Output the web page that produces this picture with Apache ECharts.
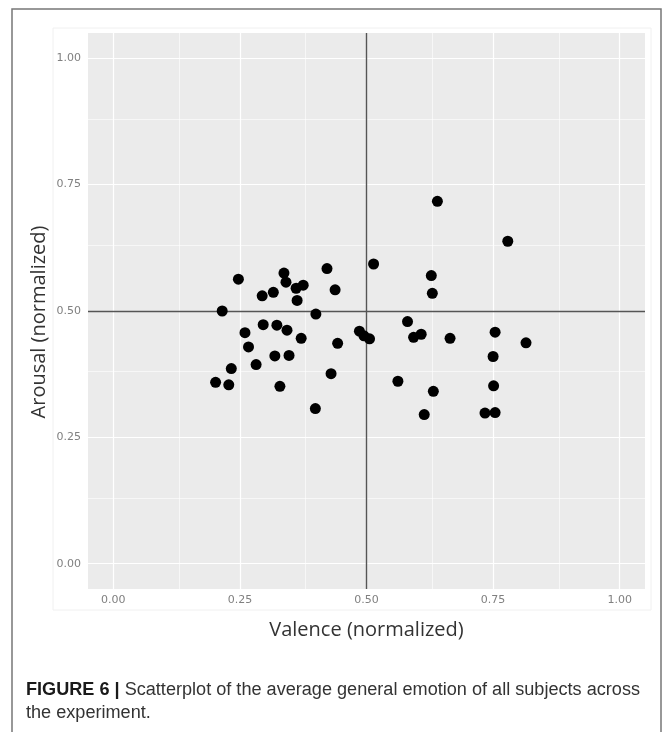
<!DOCTYPE html>
<html><head><meta charset="utf-8">
<script src="https://cdn.jsdelivr.net/npm/echarts@6/dist/echarts.min.js"></script>
<style>html,body{margin:0;padding:0;background:#fff;}#c{width:667px;height:732px;}</style>
</head><body><div id="c"></div>
<script>
const valence = [0.247,0.215,0.337,0.341,0.294,0.316,0.361,0.375,0.363,0.422,0.438,0.400,
  0.296,0.323,0.343,0.260,0.371,0.443,0.267,0.319,0.347,0.282,0.233,0.202,0.228,0.329,0.430,0.399,
  0.486,0.495,0.506,
  0.640,0.779,0.514,0.628,0.630,0.581,0.593,0.608,0.665,0.754,0.815,0.750,0.562,0.632,0.751,0.614,0.734,0.754];
const arousal = [0.563,0.500,0.575,0.557,0.530,0.537,0.545,0.551,0.521,0.584,0.542,0.494,
  0.473,0.472,0.462,0.457,0.446,0.436,0.429,0.411,0.412,0.394,0.386,0.359,0.354,0.351,0.376,0.307,
  0.460,0.451,0.445,
  0.717,0.638,0.593,0.570,0.535,0.479,0.448,0.454,0.446,0.458,0.437,0.410,0.361,0.341,0.352,0.295,0.298,0.299];
const tickValues = [0, 0.25, 0.5, 0.75, 1];
const minorValues = [0.125, 0.375, 0.625, 0.875];
const refValue = 0.5;
const xTitle = 'Valence (normalized)';
const yTitle = 'Arousal (normalized)';
const captionBold = 'FIGURE 6 | ';
const captionLine1 = 'Scatterplot of the average general emotion of all subjects across';
const captionLine2 = 'the experiment.';

const points = valence.map((v, i) => [v, arousal[i]]);

// measure caption to fit the condensed look of the original
const mctx = document.createElement('canvas').getContext('2d');
mctx.font = 'bold 18px "Liberation Sans"';
const wB = mctx.measureText(captionBold).width;
mctx.font = '18px "Liberation Sans"';
const wN = mctx.measureText(captionLine1).width;
const capScale = 614 / (wB + wN);

const chart = echarts.init(document.getElementById('c'), null, {renderer: 'canvas'});
const axisCommon = {
  type: 'value', min: -0.05, max: 1.05,
  axisLine: {show: false},
  splitLine: {show: false},
  axisTick: {show: true, customValues: tickValues, length: 4, lineStyle: {color: '#444', width: 1}},
  axisLabel: {customValues: tickValues, formatter: v => v.toFixed(2), color: '#808080', fontSize: 11, fontFamily: 'DejaVu Sans'},
  nameLocation: 'middle',
  nameTextStyle: {fontFamily: 'Open Sans', fontSize: 20, color: '#333'}
};
const gridLine = (vals, w, axis) => vals.map(v => ({[axis]: v, lineStyle: {color: '#ffffff', width: w, type: 'solid'}}));
chart.setOption({
  animation: false,
  grid: {left: 88, right: 22, top: 33, bottom: 143, show: true, backgroundColor: '#EBEBEB', borderWidth: 0},
  xAxis: Object.assign({}, axisCommon, {name: xTitle, nameGap: 31, axisLabel: Object.assign({}, axisCommon.axisLabel, {margin: 6})}),
  yAxis: Object.assign({}, axisCommon, {axisLabel: Object.assign({}, axisCommon.axisLabel, {margin: 7})}),
  series: [
    {type: 'scatter', data: [], z: 1, zlevel: 0, silent: true,
     markLine: {silent: true, symbol: 'none', label: {show: false}, animation: false,
       data: [].concat(gridLine(minorValues, 0.6, 'xAxis'), gridLine(minorValues, 0.6, 'yAxis'),
                       gridLine(tickValues, 1.2, 'xAxis'), gridLine(tickValues, 1.2, 'yAxis'))}},
    {type: 'scatter', data: [], z: 2, zlevel: 0, silent: true,
     markLine: {silent: true, symbol: 'none', label: {show: false}, animation: false,
       lineStyle: {color: '#555', width: 1.4, type: 'solid'},
       data: [{xAxis: refValue}, {yAxis: refValue}]}},
    {type: 'scatter', data: points, z: 3, zlevel: 1, symbolSize: 11, itemStyle: {color: '#000', opacity: 1}}
  ],
  graphic: [
    {type: 'rect', shape: {x: 12, y: 9, width: 649, height: 760}, style: {fill: 'none', stroke: '#777', lineWidth: 1.5}, silent: true, z: -10},
    {type: 'rect', shape: {x: 53, y: 28, width: 598, height: 582}, style: {fill: 'none', stroke: '#f0f0f0', lineWidth: 1}, silent: true, z: -10},
    {type: 'text', x: 39, y: 322, rotation: Math.PI / 2, style: {text: yTitle, fontFamily: 'Open Sans', fontSize: 20, fill: '#333', align: 'center', verticalAlign: 'middle'}},
    {type: 'text', x: 26, y: 681, scaleX: capScale, style: {
      x: 0, y: 0, verticalAlign: 'top',
      rich: {b: {fontFamily: 'Liberation Sans', fontWeight: 'bold', fontSize: 18, fill: '#1a1a1a'},
             n: {fontFamily: 'Liberation Sans', fontSize: 18, fill: '#333'}},
      text: '{b|' + captionBold + '}{n|' + captionLine1 + '}'}},
    {type: 'text', x: 26, y: 704, scaleX: capScale, style: {x: 0, y: 0, verticalAlign: 'top', text: captionLine2, fontFamily: 'Liberation Sans', fontSize: 18, fill: '#333'}}
  ]
});
</script></body></html>
